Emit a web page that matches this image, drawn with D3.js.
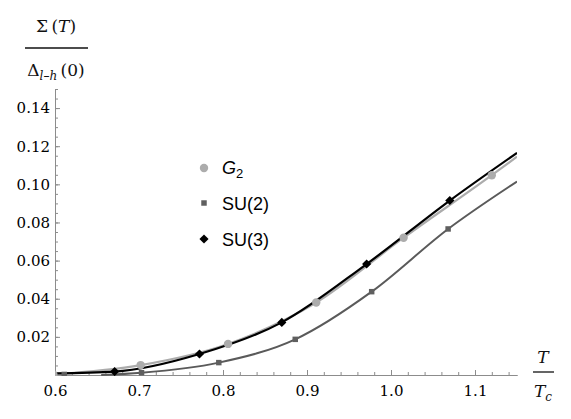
<!DOCTYPE html>
<html>
<head>
<meta charset="utf-8">
<script src="https://cdn.jsdelivr.net/npm/d3@7"></script>
<style>
  body { margin: 0; background: #fff; }
  svg { display: block; }
</style>
</head>
<body>
<div id="chart"></div>
<script>
// valeurs (T/Tc, Sigma/Delta)
const g2T = [0.598, 0.702, 0.806, 0.911, 1.015, 1.120];
const g2V = [0.0003, 0.0052, 0.0163, 0.0380, 0.0720, 0.1048];
const su2T = [0.611, 0.703, 0.795, 0.886, 0.977, 1.068];
const su2V = [0.0003, 0.0012, 0.0065, 0.0187, 0.0437, 0.0766];
const su3T = [0.671, 0.772, 0.870, 0.971, 1.070];
const su3V = [0.0018, 0.0110, 0.0276, 0.0582, 0.0915];

// bouts de courbes hors des points (lus aussi)
const g2CurveEnds = [[0.6, 0.0003], [1.15, 0.1145]];
const su2CurveEnds = [[0.655, 0.0], [1.15, 0.1015]];
const su3CurveEnds = [[0.6, 0.0009], [1.15, 0.1165]];

const xTickLabels = [0.6, 0.7, 0.8, 0.9, 1.0, 1.1];
const yTickLabels = [0.02, 0.04, 0.06, 0.08, 0.10, 0.12, 0.14];
const xDomain = [0.6, 1.15];
const yDomain = [0, 0.15];

const width = 571, height = 419;
const margin = { top: 89, right: 54, bottom: 44, left: 55 };

const svg = d3.select("#chart")
  .append("svg")
  .attr("width", width)
  .attr("height", height);

const x = d3.scaleLinear().domain(xDomain).range([margin.left, width - margin.right]);
const y = d3.scaleLinear().domain(yDomain).range([height - margin.bottom, margin.top]);

const axisColor = "#8c8c8c";
const serif = "'DejaVu Serif', serif";

// axes - ticks vers l'interieur comme Mathematica
const xMinor = d3.range(xDomain[0], xDomain[1] + 1e-9, 0.02);
const yMinor = d3.range(yDomain[0], yDomain[1] + 1e-9, 0.005);

const gx = svg.append("g").attr("transform", "translate(0," + y(0) + ")");
gx.call(d3.axisBottom(x).tickValues(xMinor).tickSizeInner(-3).tickSizeOuter(0).tickFormat(""));
gx.append("g").call(d3.axisBottom(x).tickValues(xTickLabels).tickSizeInner(-5).tickSizeOuter(0)
  .tickPadding(10).tickFormat(d3.format(".1f")));

const gy = svg.append("g").attr("transform", "translate(" + x(0.6) + ",0)");
gy.call(d3.axisLeft(y).tickValues(yMinor).tickSizeInner(-3).tickSizeOuter(0).tickFormat(""));
gy.append("g").call(d3.axisLeft(y).tickValues(yTickLabels).tickSizeInner(-5).tickSizeOuter(0)
  .tickPadding(5).tickFormat(d3.format(".2f")));

svg.selectAll(".domain").attr("stroke", axisColor).attr("stroke-width", 1);
svg.selectAll(".tick line").attr("stroke", axisColor).attr("stroke-width", 1);
svg.selectAll(".tick text")
  .attr("fill", "#000")
  .style("font-family", serif)
  .style("font-size", "15px");

// clip
svg.append("clipPath").attr("id", "clip")
  .append("rect")
  .attr("x", x(xDomain[0])).attr("y", y(yDomain[1]))
  .attr("width", x(xDomain[1]) - x(xDomain[0]))
  .attr("height", y(0) - y(yDomain[1]) + 1);

const plot = svg.append("g").attr("clip-path", "url(#clip)");

const line = d3.line()
  .x(d => x(d[0]))
  .y(d => y(d[1]))
  .curve(d3.curveMonotoneX);

function curvePoints(ts, vs, ends) {
  let pts = ts.map((t, i) => [t, vs[i]]);
  pts = pts.concat(ends);
  pts.sort((a, b) => a[0] - b[0]);
  return pts.filter(p => p[0] >= ends[0][0]);
}

const series = [
  { name: "SU(2)", t: su2T, v: su2V, ends: su2CurveEnds, color: "#5a5a5a", lw: 2 },
  { name: "G2", t: g2T, v: g2V, ends: g2CurveEnds, color: "#acacac", lw: 2.2 },
  { name: "SU(3)", t: su3T, v: su3V, ends: su3CurveEnds, color: "#000", lw: 2.2 }
];

series.forEach(s => {
  plot.append("path")
    .datum(curvePoints(s.t, s.v, s.ends))
    .attr("fill", "none")
    .attr("stroke", s.color)
    .attr("stroke-width", s.lw)
    .attr("d", line);
});

// marqueurs
const circle = d3.symbol().type(d3.symbolCircle).size(Math.PI * 4.2 * 4.2);
const square = d3.symbol().type(d3.symbolSquare).size(30);
const diamond = d3.symbol().type(d3.symbolSquare).size(42);

plot.selectAll(".g2")
  .data(g2T.map((t, i) => [t, g2V[i]]))
  .join("path")
  .attr("d", circle)
  .attr("fill", "#acacac")
  .attr("transform", d => "translate(" + x(d[0]) + "," + y(d[1]) + ")");

plot.selectAll(".su2")
  .data(su2T.map((t, i) => [t, su2V[i]]))
  .join("path")
  .attr("d", square)
  .attr("fill", "#5f5f5f")
  .attr("transform", d => "translate(" + x(d[0]) + "," + y(d[1]) + ")");

plot.selectAll(".su3")
  .data(su3T.map((t, i) => [t, su3V[i]]))
  .join("path")
  .attr("d", diamond)
  .attr("fill", "#000")
  .attr("transform", d => "translate(" + x(d[0]) + "," + y(d[1]) + ") rotate(45)");

// legende
const legend = svg.append("g")
  .style("font-family", "'Liberation Sans', Arial, sans-serif")
  .style("font-size", "18px");

legend.append("path").attr("d", circle).attr("fill", "#acacac")
  .attr("transform", "translate(204,168)");
const tg = legend.append("text").attr("x", 222).attr("y", 174);
tg.append("tspan").style("font-style", "italic").text("G");
tg.append("tspan").attr("dy", 4).style("font-size", "13px").text("2");

legend.append("path").attr("d", square).attr("fill", "#5f5f5f")
  .attr("transform", "translate(204,203)");
legend.append("text").attr("x", 222).attr("y", 210).text("SU(2)");

legend.append("path").attr("d", diamond).attr("fill", "#000")
  .attr("transform", "translate(204,239) rotate(45)");
legend.append("text").attr("x", 222).attr("y", 246).text("SU(3)");

// titres des axes (fractions)
const ylab = svg.append("g").style("font-family", serif).style("font-size", "17px").attr("fill", "#111");
const yt1 = ylab.append("text").attr("x", 56).attr("y", 32).attr("text-anchor", "middle");
yt1.append("tspan").text("Σ\u2009(");
yt1.append("tspan").style("font-style", "italic").text("T");
yt1.append("tspan").text(")");
ylab.append("line").attr("x1", 25).attr("x2", 88).attr("y1", 48).attr("y2", 48)
  .attr("stroke", "#111").attr("stroke-width", 1.3);
const yt2 = ylab.append("text").attr("x", 56).attr("y", 76).attr("text-anchor", "middle");
yt2.append("tspan").text("Δ");
yt2.append("tspan").attr("dy", 4).style("font-style", "italic").style("font-size", "12px").text("l–h");
yt2.append("tspan").attr("dy", -4).text("\u2009(0)");

const xlab = svg.append("g").style("font-family", serif).style("font-size", "17px").attr("fill", "#111");
xlab.append("text").attr("x", 543).attr("y", 363).attr("text-anchor", "middle")
  .style("font-style", "italic").text("T");
xlab.append("line").attr("x1", 533).attr("x2", 554).attr("y1", 372).attr("y2", 372)
  .attr("stroke", "#111").attr("stroke-width", 1.3);
const xt2 = xlab.append("text").attr("x", 543).attr("y", 397).attr("text-anchor", "middle")
  .style("font-style", "italic");
xt2.append("tspan").text("T");
xt2.append("tspan").attr("dy", 4).style("font-size", "12px").text("c");
</script>
</body>
</html>
